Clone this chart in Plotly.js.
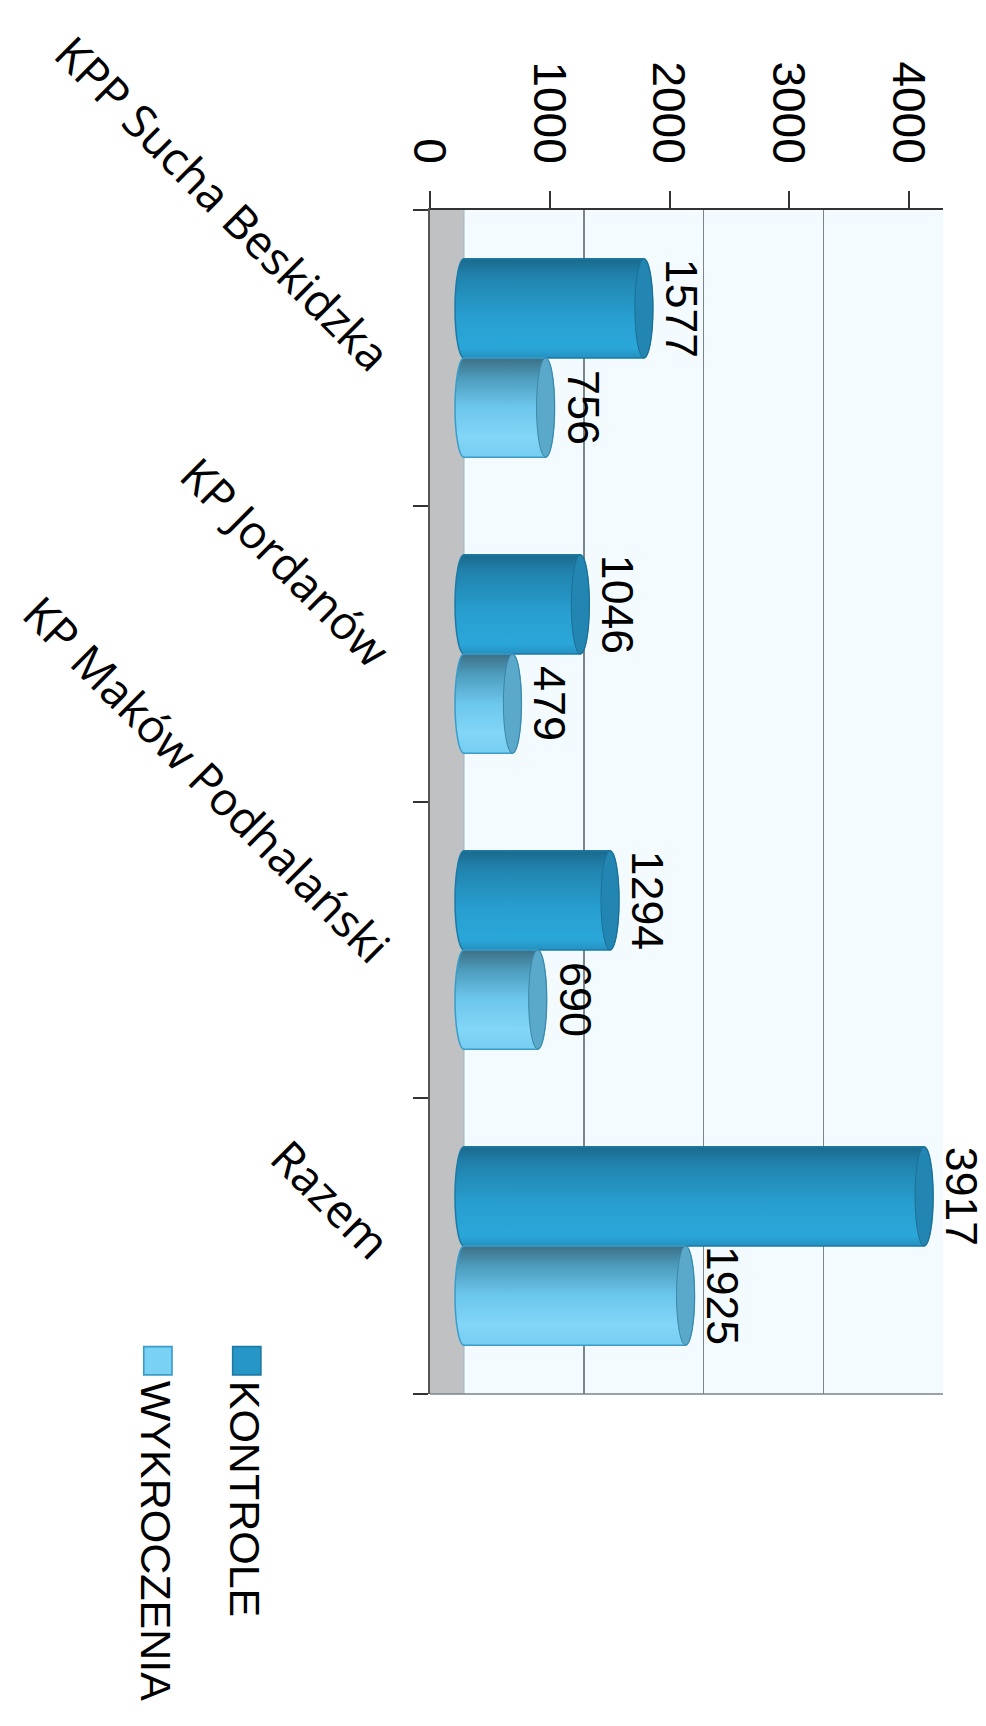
<!DOCTYPE html>
<html>
<head>
<meta charset="utf-8">
<script src="https://cdn.plot.ly/plotly-3.0.1.min.js"></script>
<style>
  html, body { margin:0; padding:0; width:986px; height:1726px; overflow:hidden; background:#ffffff; }
  #chart { position:absolute; left:0; top:0; width:1726px; height:986px;
           transform-origin:0 0; transform:translate(986px,0) rotate(90deg); }
</style>
</head>
<body>
<div id="chart"></div>
<script>
// ---- data ----
const categories = ["KPP Sucha Beskidzka", "KP Jordanów", "KP Maków Podhalański", "Razem"];
const kontrole = [1577, 1046, 1294, 3917];
const wykroczenia = [756, 479, 690, 1925];
const seriesNames = ["KONTROLE", "WYKROCZENIA"];
const valueTicks = [0, 1000, 2000, 3000, 4000];
const gridTicks = [1000, 2000, 3000, 4000];

const colK = '#2596c6', colW = '#79d1f4';

const traces = [
  { type:'bar', name:seriesNames[0], x:categories, y:kontrole, legendgroup:'k',
    marker:{color:colK, line:{color:'#1c7aa5', width:1.5}},
    text:kontrole.map(String), textposition:'outside', textangle:0, cliponaxis:false,
    textfont:{family:'Liberation Sans, Arial, sans-serif', size:45, color:'#000'},
    hoverinfo:'x+y' },
  { type:'bar', name:seriesNames[1], x:categories, y:wykroczenia, legendgroup:'w',
    marker:{color:colW, line:{color:'#3a9dc9', width:1.5}},
    text:wykroczenia.map(String), textposition:'outside', textangle:0, cliponaxis:false,
    textfont:{family:'Liberation Sans, Arial, sans-serif', size:45, color:'#000'},
    hoverinfo:'x+y' },
  { type:'scatter', x:[], y:[], yaxis:'y2', showlegend:false, hoverinfo:'skip' }
];

const layout = {
  width:1726, height:986,
  margin:{l:210, r:332, t:43, b:430, pad:0},
  paper_bgcolor:'#ffffff',
  plot_bgcolor:'#f3fbfe',
  barmode:'group', bargap:0.33, bargroupgap:0,
  showlegend:true,
  legend:{x:0.955, y:-0.29, xanchor:'left', yanchor:'top', orientation:'v',
          traceorder:'grouped', tracegroupgap:30, bgcolor:'rgba(0,0,0,0)',
          font:{family:'Liberation Sans, Arial, sans-serif', size:43, color:'#000'}},
  xaxis:{type:'category', categoryorder:'array', categoryarray:categories,
         tickangle:-45, tickson:'boundaries', ticks:'outside', ticklen:15, tickcolor:'#333', tickwidth:2,
         showline:true, linecolor:'#555', linewidth:2, showgrid:false, zeroline:false,
         ticklabelstandoff:10,
         tickfont:{family:'Open Sans, sans-serif', size:46, color:'#000'}},
  yaxis:{range:[-284, 4000], tickvals:gridTicks, showticklabels:false, ticks:'',
         showgrid:true, gridcolor:'#7a858c', gridwidth:1.5, zeroline:false, showline:false},
  yaxis2:{overlaying:'y', side:'left', anchor:'x', range:[0, 4284], tickvals:valueTicks,
          ticktext:valueTicks.map(String),
          ticks:'outside', ticklen:17, tickwidth:2, tickcolor:'#333',
          showline:true, linecolor:'#333', linewidth:2, showgrid:false, zeroline:false,
          ticklabelstandoff:18,
          tickfont:{family:'Liberation Sans, Arial, sans-serif', size:46, color:'#000'}},
  shapes:[
    {type:'rect', xref:'paper', x0:0, x1:1, yref:'y', y0:-284, y1:0, layer:'below',
     fillcolor:'#bfc1c3', line:{width:0}},
    {type:'line', xref:'paper', x0:0, x1:1, yref:'y', y0:0, y1:0, layer:'below',
     line:{color:'#9fb7c4', width:1}},
    {type:'line', xref:'paper', x0:1, x1:1, yref:'y', y0:-284, y1:4000, layer:'below',
     line:{color:'#7a858c', width:1.5}}
  ]
};

Plotly.newPlot('chart', traces, layout, {staticPlot:true, displayModeBar:false}).then(function(gd){
  const svg = gd.querySelector('svg.main-svg');
  const ns = 'http://www.w3.org/2000/svg';
  let defs = svg.querySelector('defs');
  if (!defs) { defs = document.createElementNS(ns,'defs'); svg.insertBefore(defs, svg.firstChild); }
  function grad(id, stops){
    const g = document.createElementNS(ns,'linearGradient');
    g.setAttribute('id', id); g.setAttribute('x1','0'); g.setAttribute('y1','0');
    g.setAttribute('x2','1'); g.setAttribute('y2','0');
    stops.forEach(function(s){
      const st = document.createElementNS(ns,'stop');
      st.setAttribute('offset', s[0]); st.setAttribute('stop-color', s[1]);
      g.appendChild(st);
    });
    defs.appendChild(g);
  }
  grad('gradK', [[0,'#1a6a8d'],[0.18,'#2183ae'],[0.6,'#28a0d1'],[0.9,'#2aa6d8'],[1,'#2391c0']]);
  grad('gradW', [[0,'#3c6f85'],[0.2,'#4d9cbd'],[0.5,'#6cc7ec'],[0.8,'#82d6f7'],[1,'#76cef1']]);
  const capFill = ['#2386b2', '#5aa9cb'];
  const capLine = ['#1b6f95', '#3b87a8'];
  const barTraces = gd.querySelectorAll('.barlayer .trace');
  barTraces.forEach(function(t, i){
    t.querySelectorAll('.point').forEach(function(pt){
      const p = pt.querySelector('path');
      if (!p) return;
      const b = p.getBBox();
      const x0 = b.x, x1 = b.x + b.width, yt = b.y, yb = b.y + b.height;
      const rx = b.width / 2, ry = 9, xc = x0 + rx;
      const d = 'M' + x0 + ',' + (yt + ry) +
                ' A' + rx + ',' + ry + ' 0 0 1 ' + x1 + ',' + (yt + ry) +
                ' L' + x1 + ',' + yb +
                ' A' + rx + ',' + ry + ' 0 0 1 ' + x0 + ',' + yb + ' Z';
      p.setAttribute('d', d);
      p.style.fill = i === 0 ? 'url(#gradK)' : 'url(#gradW)';
      const cap = document.createElementNS(ns, 'ellipse');
      cap.setAttribute('cx', xc); cap.setAttribute('cy', yt + ry);
      cap.setAttribute('rx', rx); cap.setAttribute('ry', ry);
      cap.setAttribute('fill', capFill[i]);
      cap.setAttribute('stroke', capLine[i]);
      cap.setAttribute('stroke-width', '1');
      pt.appendChild(cap);
    });
  });
  gd.querySelectorAll('.legendpoints path').forEach(function(p){
    const cur = p.getAttribute('transform') || '';
    p.setAttribute('transform', cur + ' scale(2.35)');
    p.style.strokeWidth = '0.7px';
  });
});
</script>
</body>
</html>
